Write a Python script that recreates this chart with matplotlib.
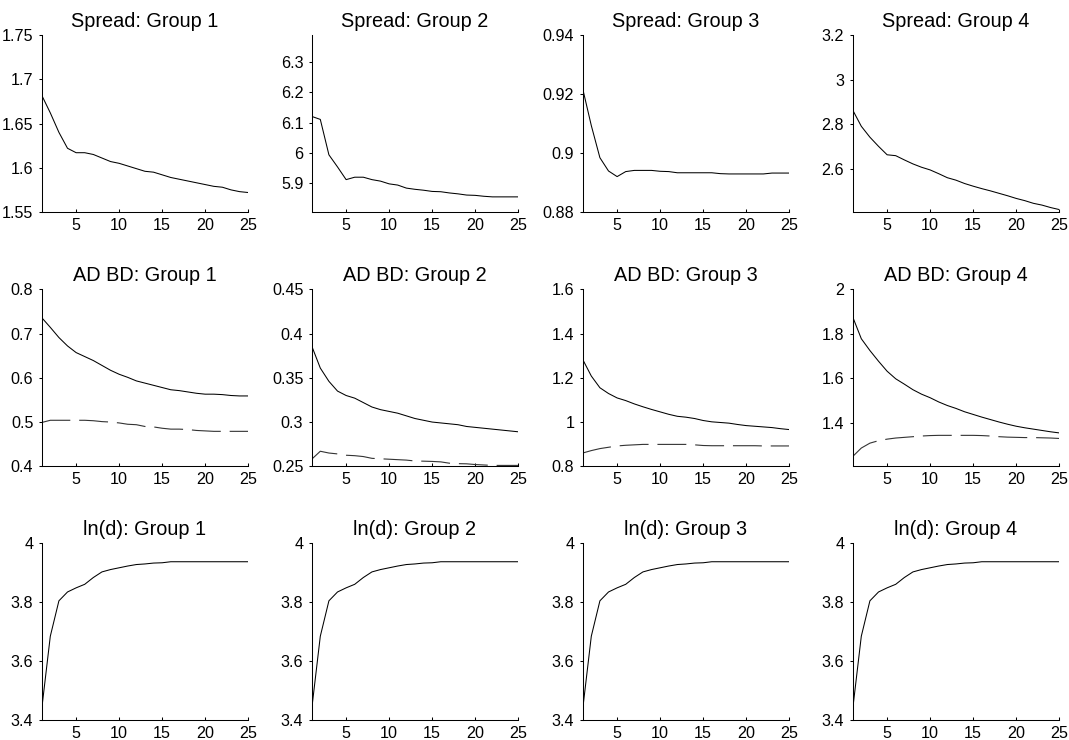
import matplotlib
matplotlib.use("Agg")
import matplotlib.pyplot as plt
import numpy as np

plt.rcParams['font.family'] = ['Liberation Sans', 'DejaVu Sans']

horizon = list(range(1, 26))
groups = ["Group 1", "Group 2", "Group 3", "Group 4"]

spread_g1 = [1.682, 1.662, 1.640, 1.622, 1.617, 1.617, 1.615, 1.611, 1.607, 1.605,
             1.602, 1.599, 1.596, 1.595, 1.592, 1.589, 1.587, 1.585, 1.583, 1.581,
             1.579, 1.578, 1.575, 1.573, 1.572]
spread_g2 = [6.121, 6.111, 5.994, 5.954, 5.912, 5.920, 5.920, 5.912, 5.907, 5.898,
             5.894, 5.884, 5.880, 5.877, 5.873, 5.872, 5.868, 5.865, 5.861, 5.860,
             5.857, 5.855, 5.855, 5.855, 5.855]
spread_g3 = [0.9218, 0.9093, 0.8984, 0.8939, 0.8920, 0.8937, 0.8941, 0.8941, 0.8941, 0.8938,
             0.8937, 0.8933, 0.8933, 0.8933, 0.8933, 0.8933, 0.8930, 0.8929, 0.8929, 0.8929,
             0.8929, 0.8929, 0.8932, 0.8932, 0.8932]
spread_g4 = [2.863, 2.790, 2.741, 2.700, 2.662, 2.658, 2.639, 2.621, 2.606, 2.594,
             2.577, 2.559, 2.548, 2.533, 2.521, 2.510, 2.500, 2.489, 2.478, 2.466,
             2.456, 2.444, 2.436, 2.425, 2.416]

ad_g1 = [0.736, 0.714, 0.691, 0.672, 0.657, 0.648, 0.639, 0.628, 0.617, 0.608,
         0.601, 0.593, 0.588, 0.583, 0.578, 0.573, 0.571, 0.568, 0.565, 0.563,
         0.563, 0.562, 0.560, 0.559, 0.559]
bd_g1 = [0.499, 0.504, 0.504, 0.504, 0.504, 0.504, 0.503, 0.501, 0.500, 0.498,
         0.495, 0.494, 0.490, 0.489, 0.486, 0.484, 0.484, 0.483, 0.481, 0.480,
         0.479, 0.479, 0.479, 0.479, 0.479]
ad_g2 = [0.386, 0.361, 0.346, 0.335, 0.330, 0.327, 0.322, 0.317, 0.314, 0.312,
         0.310, 0.307, 0.304, 0.302, 0.300, 0.299, 0.298, 0.297, 0.295, 0.294,
         0.293, 0.292, 0.291, 0.290, 0.289]
bd_g2 = [0.258, 0.267, 0.265, 0.264, 0.2625, 0.262, 0.261, 0.259, 0.2585, 0.258,
         0.2575, 0.257, 0.256, 0.2558, 0.2555, 0.255, 0.2535, 0.253, 0.2528, 0.252,
         0.2515, 0.251, 0.251, 0.251, 0.251]
ad_g3 = [1.283, 1.208, 1.155, 1.129, 1.109, 1.097, 1.082, 1.069, 1.057, 1.046,
         1.035, 1.026, 1.022, 1.016, 1.007, 1.001, 0.998, 0.995, 0.989, 0.984,
         0.981, 0.978, 0.975, 0.970, 0.966]
bd_g3 = [0.860, 0.871, 0.880, 0.886, 0.892, 0.895, 0.897, 0.899, 0.899, 0.899,
         0.899, 0.899, 0.899, 0.897, 0.894, 0.893, 0.893, 0.893, 0.893, 0.893,
         0.893, 0.892, 0.892, 0.892, 0.892]
ad_g4 = [1.876, 1.778, 1.725, 1.677, 1.632, 1.598, 1.574, 1.549, 1.529, 1.513,
         1.494, 1.478, 1.465, 1.450, 1.438, 1.426, 1.415, 1.404, 1.394, 1.385,
         1.378, 1.372, 1.366, 1.360, 1.355]
bd_g4 = [1.249, 1.287, 1.309, 1.320, 1.327, 1.332, 1.335, 1.338, 1.341, 1.343,
         1.344, 1.344, 1.344, 1.344, 1.344, 1.343, 1.341, 1.338, 1.336, 1.335,
         1.334, 1.334, 1.333, 1.332, 1.330]

lnd = [3.4375, 3.685, 3.805, 3.835, 3.849, 3.861, 3.884, 3.903, 3.911, 3.917,
       3.923, 3.928, 3.930, 3.933, 3.934, 3.9375, 3.9375, 3.9375, 3.9375, 3.9375,
       3.9375, 3.9375, 3.9375, 3.9375, 3.9375]

spread = [spread_g1, spread_g2, spread_g3, spread_g4]
ad = [ad_g1, ad_g2, ad_g3, ad_g4]
bd = [bd_g1, bd_g2, bd_g3, bd_g4]
lnd_all = [lnd, lnd, lnd, lnd]

xticks = [5, 10, 15, 20, 25]
spread_ylim = [(1.55, 1.75), (5.805, 6.39), (0.88, 0.94), (2.405, 3.2)]
spread_yticks = [[1.55, 1.6, 1.65, 1.7, 1.75], [5.9, 6.0, 6.1, 6.2, 6.3],
                 [0.88, 0.9, 0.92, 0.94], [2.6, 2.8, 3.0, 3.2]]
ad_ylim = [(0.4, 0.8), (0.25, 0.45), (0.8, 1.6), (1.205, 2.0)]
ad_yticks = [[0.4, 0.5, 0.6, 0.7, 0.8], [0.25, 0.3, 0.35, 0.4, 0.45],
             [0.8, 1.0, 1.2, 1.4, 1.6], [1.4, 1.6, 1.8, 2.0]]
lnd_ylim = (3.4, 4.0)
lnd_yticks = [3.4, 3.6, 3.8, 4.0]

fig = plt.figure(figsize=(10.69, 7.40), dpi=100)

lefts = [41.7, 311.7, 582.7, 852.7]
tops = [35.0, 289.3, 543.3]
W, H = 206.5, 177.0
FW, FH = 1069.0, 740.0


def fmt(v):
    s = ('%.2f' % v).rstrip('0').rstrip('.')
    return s


def style(ax, ylim, yticks, title):
    ax.set_xlim(1, 25)
    ax.set_ylim(*ylim)
    ax.set_xticks(xticks)
    ax.set_yticks(yticks)
    ax.set_yticklabels([fmt(v) for v in yticks])
    ax.spines['top'].set_visible(False)
    ax.spines['right'].set_visible(False)
    for s in ['left', 'bottom']:
        ax.spines[s].set_linewidth(0.75)
    ax.tick_params(axis='x', direction='in', length=2.5, width=0.75, pad=4.0, labelsize=11.6)
    ax.tick_params(axis='y', direction='out', length=2.5, width=0.75, pad=3.5, labelsize=11.6)
    ax.set_title(title, fontsize=14.3, pad=6)


for r in range(3):
    for c in range(4):
        ax = fig.add_axes([lefts[c] / FW, 1 - (tops[r] + H) / FH, W / FW, H / FH])
        if r == 0:
            ax.plot(horizon, spread[c], color='black', lw=0.75)
            style(ax, spread_ylim[c], spread_yticks[c], 'Spread: ' + groups[c])
        elif r == 1:
            ax.plot(horizon, ad[c], color='black', lw=0.75)
            ax.plot(horizon, bd[c], color='0.2', lw=0.8, dashes=(26, 8))
            style(ax, ad_ylim[c], ad_yticks[c], 'AD BD: ' + groups[c])
        else:
            ax.plot(horizon, lnd_all[c], color='black', lw=0.75)
            style(ax, lnd_ylim, lnd_yticks, 'ln(d): ' + groups[c])

fig.savefig('out.png', dpi=100)
